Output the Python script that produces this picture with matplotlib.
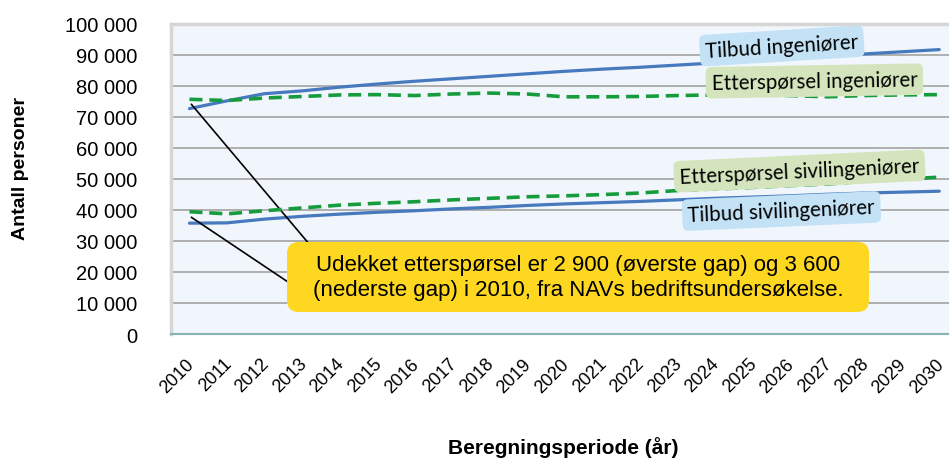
import matplotlib.pyplot as plt
from matplotlib.patches import FancyBboxPatch
from matplotlib.ticker import FuncFormatter
from matplotlib.transforms import ScaledTranslation

# Data
years = list(range(2010, 2031))

tilbud_ing = [72600, 75100, 77400, 78300, 79500, 80500, 81400, 82200, 83000, 83800,
              84600, 85300, 85900, 86600, 87300, 88000, 88700, 89500, 90200, 90900, 91600]
ettersporsel_ing = [75600, 75200, 76000, 76500, 77000, 77100, 76800, 77300, 77600, 77300,
                    76400, 76400, 76500, 76800, 77000, 77000, 76800, 76400, 76800, 77000, 77100]
tilbud_siv = [35700, 35800, 37000, 37900, 38600, 39200, 39700, 40300, 40800, 41400,
              41900, 42300, 42700, 43200, 43700, 44100, 44500, 45000, 45400, 45700, 46000]
ettersporsel_siv = [39400, 38700, 39700, 40600, 41500, 42100, 42600, 43200, 43700, 44200,
                    44500, 44900, 45400, 46200, 46700, 47200, 47800, 48300, 49200, 49900, 50500]

y_ticks = list(range(0, 100001, 10000))
x_label = "Beregningsperiode (år)"
y_label = "Antall personer"
callout = ("Udekket etterspørsel er 2 900 (øverste gap) og 3 600\n"
           "(nederste gap) i 2010, fra NAVs bedriftsundersøkelse.")

BLUE = "#4679bd"
GREEN = "#179c3d"
W, H = 949, 460

plt.rcParams["font.family"] = ["Liberation Sans", "DejaVu Sans"]

fig = plt.figure(figsize=(W / 100, H / 100), dpi=100)
ax = fig.add_axes([0.1799, 0.2717, 0.8296, 0.675])
ax.set_facecolor("#f1f6fc")

ax.plot(years, tilbud_ing, color=BLUE, lw=2.3, solid_capstyle="round", zorder=3)
ax.plot(years, tilbud_siv, color=BLUE, lw=2.3, solid_capstyle="round", zorder=3)
ax.plot(years, ettersporsel_ing, color=GREEN, lw=2.6, dashes=(3.6, 1.9), zorder=4)
ax.plot(years, ettersporsel_siv, color=GREEN, lw=2.6, dashes=(3.6, 1.9), zorder=4)

ax.set_xlim(2009.5, 2030.5)
ax.set_ylim(0, 100000)
ax.set_yticks(y_ticks)
ax.yaxis.set_major_formatter(FuncFormatter(lambda v, p: f"{int(v):,}".replace(",", " ")))
ax.set_xticks(years)
ax.set_xticklabels([str(y) for y in years], rotation=45, ha="right", va="top",
                   rotation_mode="anchor")
ax.tick_params(axis="x", length=0, pad=15, labelsize=13)
ax.tick_params(axis="y", length=0, pad=24, labelsize=14.5)
shift = ScaledTranslation(-4 / 100, 0, fig.dpi_scale_trans)
for lab in ax.get_xticklabels():
    lab.set_transform(lab.get_transform() + shift)

for v in y_ticks[1:-1]:
    ax.axhline(v, color="#a9a9a9", lw=1.3, zorder=1)

for s in ["top", "left"]:
    ax.spines[s].set_color("#d6d6d6")
    ax.spines[s].set_linewidth(2.5)
ax.spines["right"].set_visible(False)
ax.spines["bottom"].set_color("#86b3b5")
ax.spines["bottom"].set_linewidth(1.5)

ax.set_ylabel(y_label, fontsize=14, fontweight="bold")
ax.yaxis.set_label_coords(-0.18, 0.535)
ax.set_xlabel(x_label, fontsize=15, fontweight="bold")
ax.xaxis.set_label_coords(0.499, -0.327)

# Series labels
lbl_font = ["Lato", "DejaVu Sans"]
lbl_box = "round,pad=0.28,rounding_size=0.3"
ax.text(2025.8, 92800, "Tilbud ingeniører", family=lbl_font, fontsize=14.8, rotation=3.5,
        ha="center", va="center", zorder=5,
        bbox=dict(boxstyle=lbl_box, fc="#c3e2f6", ec="none"))
ax.text(2026.67, 81500, "Etterspørsel ingeniører", family=lbl_font, fontsize=14.8, rotation=1,
        ha="center", va="center", zorder=5,
        bbox=dict(boxstyle=lbl_box, fc="#d4e5bd", ec="none"))
ax.text(2026.27, 52500, "Etterspørsel sivilingeniører", family=lbl_font, fontsize=14.8,
        rotation=2.7, ha="center", va="center", zorder=5,
        bbox=dict(boxstyle=lbl_box, fc="#d4e5bd", ec="none"))
ax.text(2025.79, 39600, "Tilbud sivilingeniører", family=lbl_font, fontsize=14.8, rotation=2.5,
        ha="center", va="center", zorder=5,
        bbox=dict(boxstyle=lbl_box, fc="#c3e2f6", ec="none"))

# Callout lines and box
ax.annotate("", xy=(2010.05, 74000), xytext=(310 / W, 1 - 246 / H),
            textcoords="figure fraction",
            arrowprops=dict(arrowstyle="-", color="black", lw=1.2, shrinkA=0, shrinkB=0))
ax.annotate("", xy=(2010.05, 37600), xytext=(288 / W, 1 - 283 / H),
            textcoords="figure fraction",
            arrowprops=dict(arrowstyle="-", color="black", lw=1.2, shrinkA=0, shrinkB=0))
box = FancyBboxPatch((287 / W, 1 - 313 / H), 582 / W, 70 / H,
                     boxstyle="round,pad=0,rounding_size=0.012", mutation_aspect=W / H,
                     transform=fig.transFigure, fc="#fed721", ec="none", zorder=9)
fig.patches.append(box)
fig.text(578 / W, 1 - 278 / H, callout, fontsize=16, ha="center", va="center",
         linespacing=1.2, zorder=10)

fig.savefig("out.png", dpi=100)
